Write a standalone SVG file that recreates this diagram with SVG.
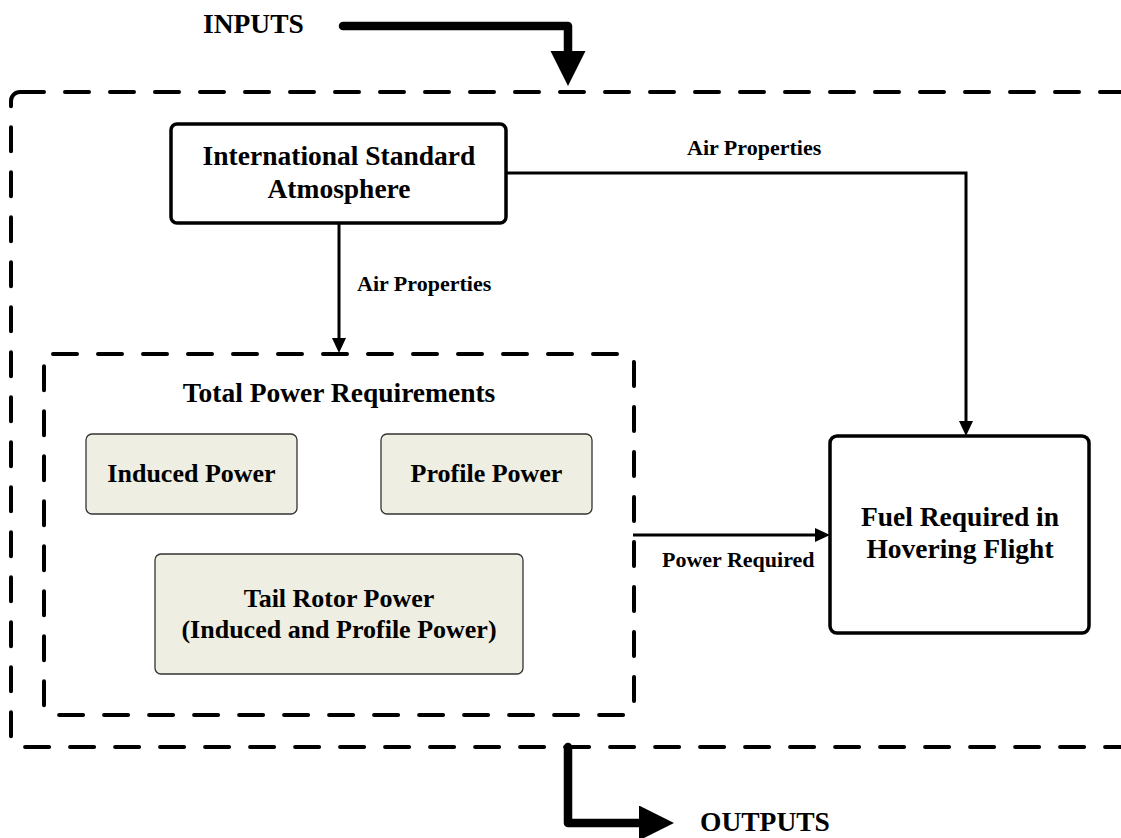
<svg xmlns="http://www.w3.org/2000/svg" width="1121" height="838" viewBox="0 0 1121 838">
  <style>
    text { font-family: "Liberation Serif", "Times New Roman", serif; font-weight: bold; fill: #000; }
    .big { font-size: 27.5px; }
    .sub { font-size: 26px; }
    .lbl { font-size: 22px; }
    .mid { text-anchor: middle; }
    .frame { fill: none; stroke: #000; stroke-width: 4; stroke-dasharray: 24 21; stroke-linecap: round; }
    .block { fill: #fff; stroke: #000; stroke-width: 3.5; }
    .part { fill: #EEEEE3; stroke: #333; stroke-width: 1.3; }
    .link { fill: none; stroke: #000; stroke-width: 3; }
    .flow { fill: none; stroke: #000; stroke-width: 8.5; stroke-linecap: round; stroke-linejoin: round; }
  </style>
  <defs>
    <marker id="tip" markerUnits="userSpaceOnUse" markerWidth="16" markerHeight="14" refX="5" refY="7" orient="auto">
      <path d="M0,0 L15,7 L0,14 z" fill="#000"/>
    </marker>
    <marker id="bigtip" markerUnits="userSpaceOnUse" markerWidth="36" markerHeight="36" refX="3" refY="17.5" orient="auto">
      <path d="M0,0 L35,17.5 L0,35 z" fill="#000"/>
    </marker>
  </defs>

  <!-- system boundary -->
  <rect id="boundary" class="frame" x="11" y="92" width="1140" height="655" rx="9"/>

  <!-- input / output flows -->
  <g id="io">
    <polyline class="flow" points="343,26 568,26 568,54" marker-end="url(#bigtip)"/>
    <text class="big" x="203" y="33">INPUTS</text>
    <polyline class="flow" points="568,747 568,823 642,823" marker-end="url(#bigtip)"/>
    <text class="big" x="700" y="831">OUTPUTS</text>
  </g>

  <!-- connectors -->
  <g id="connectors">
    <line class="link" x1="339" y1="223" x2="339" y2="343" marker-end="url(#tip)"/>
    <polyline class="link" points="506,173 966,173 966,426" marker-end="url(#tip)"/>
    <line class="link" x1="633" y1="535" x2="820" y2="535" marker-end="url(#tip)"/>
    <text class="lbl" x="357" y="291">Air Properties</text>
    <text class="lbl" x="687" y="155">Air Properties</text>
    <text class="lbl" x="662" y="567">Power Required</text>
  </g>

  <g id="isa">
    <rect class="block" x="171" y="124" width="335" height="99" rx="6"/>
    <text class="big mid" x="339" y="165">International Standard</text>
    <text class="big mid" x="339" y="198">Atmosphere</text>
  </g>

  <g id="total-power">
    <rect class="frame" x="44" y="354" width="590" height="361" rx="9"/>
    <text class="big mid" x="339" y="402">Total Power Requirements</text>
  </g>

  <g id="induced-power">
    <rect class="part" x="86" y="434" width="211" height="80" rx="6"/>
    <text class="sub mid" x="191.5" y="482">Induced Power</text>
  </g>

  <g id="profile-power">
    <rect class="part" x="381" y="434" width="211" height="80" rx="6"/>
    <text class="sub mid" x="486.5" y="482">Profile Power</text>
  </g>

  <g id="tail-rotor-power">
    <rect class="part" x="155" y="554" width="368" height="120" rx="6"/>
    <text class="sub mid" x="339" y="607">Tail Rotor Power</text>
    <text class="sub mid" x="339" y="638">(Induced and Profile Power)</text>
  </g>

  <g id="fuel">
    <rect class="block" x="830" y="436" width="259" height="197" rx="7"/>
    <text class="big mid" x="960" y="526">Fuel Required in</text>
    <text class="big mid" x="960" y="558">Hovering Flight</text>
  </g>
</svg>
